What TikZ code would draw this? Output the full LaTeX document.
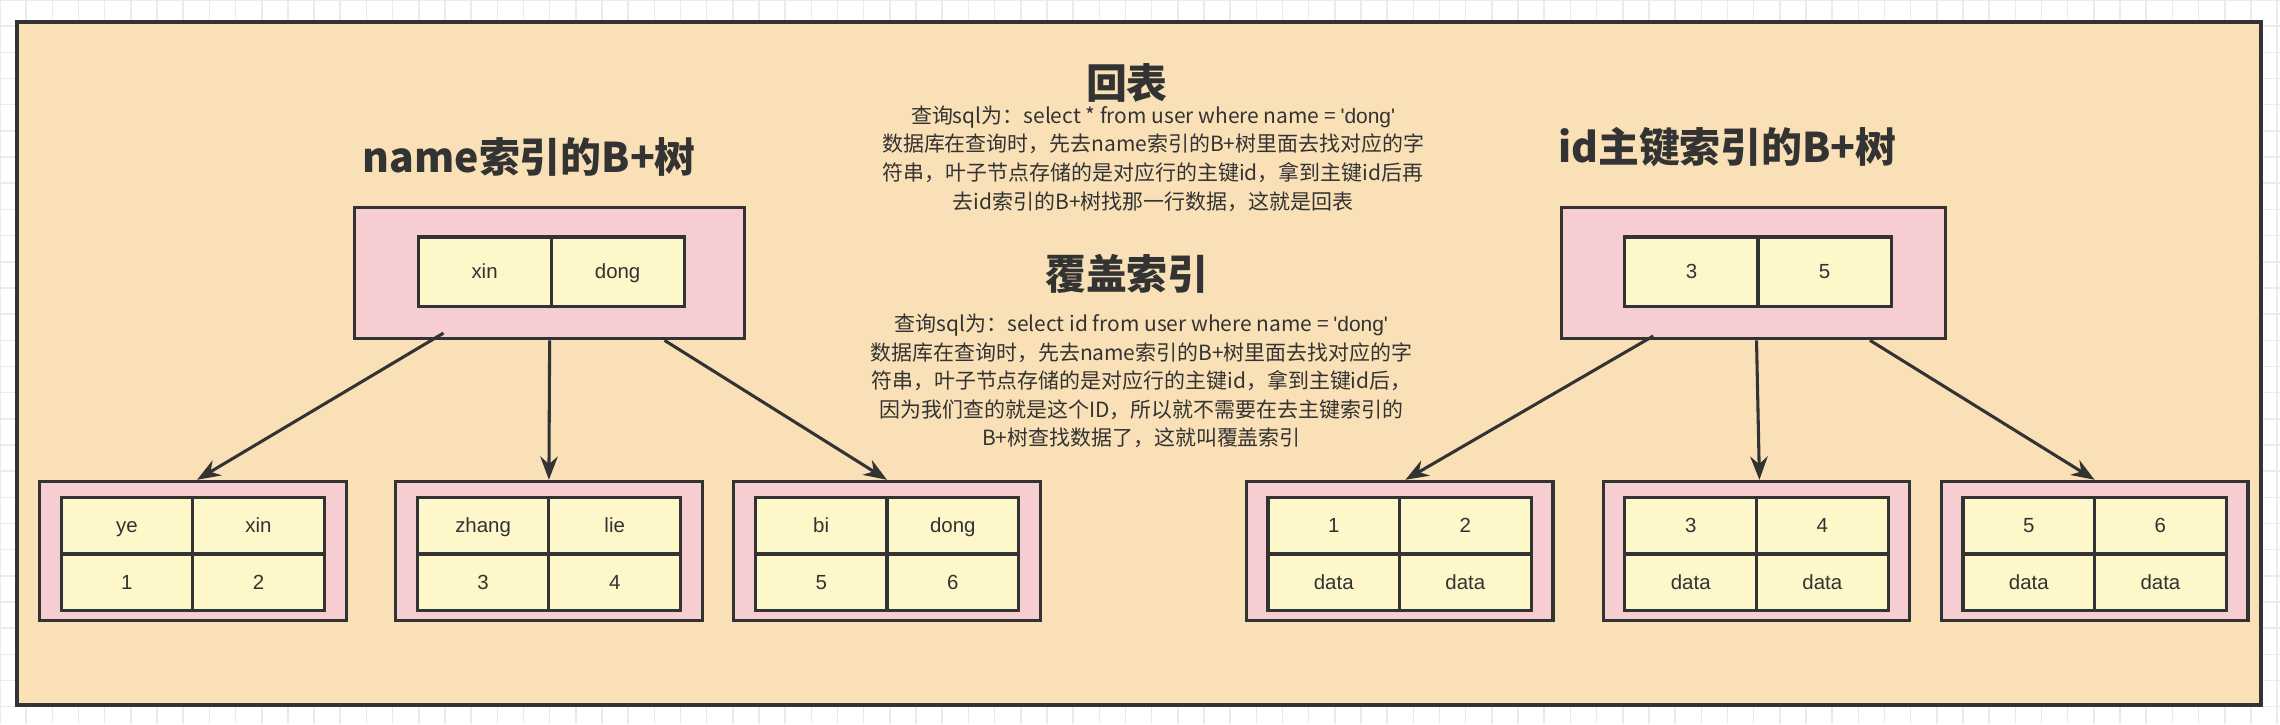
\documentclass[tikz,border=0pt]{standalone}
\usepackage{fontspec}
\setmainfont{Noto Sans CJK SC}
\newfontfamily\latinf{Liberation Sans}
\usetikzlibrary{arrows.meta}
\definecolor{bgc}{HTML}{F9E0B6}
\definecolor{pinkc}{HTML}{F6CDD0}
\definecolor{yelc}{HTML}{FDF7C9}
\definecolor{linec}{HTML}{333333}
\newcommand\qd{{\latinf 'dong'}}
\tikzset{
  pinkbox/.style={draw=linec,line width=0.6pt,fill=pinkc,inner sep=0,minimum width=#1},
  cell/.style={draw=linec,line width=0.6pt,fill=yelc,inner sep=0,minimum width=9.05mm,minimum height=3.9mm,font=\fontsize{4}{5}\latinf\selectfont,text=linec,text height=3.3pt,text depth=0.7pt},
  tcell/.style={cell,minimum width=9.15mm,minimum height=4.8mm},
  arr/.style={draw=linec,line width=0.6pt,-{Stealth[length=1.6mm,width=1.2mm]}},
  title/.style={font=\fontsize{8}{9}\selectfont\bfseries,text=linec},
  para/.style={font=\fontsize{4.1}{5.6}\selectfont,text=linec,align=center},
}
\newcommand\leafbox[6]{%
  \node[pinkbox=21.1mm,minimum height=9.6mm] (#1) at (#2,379) {};
  \node[cell] (#1a) at (#2-45.25,361.5) {#3};
  \node[cell] (#1b) at (#2+45.25,361.5) {#4};
  \node[cell] (#1c) at (#2-45.25,400.5) {#5};
  \node[cell] (#1d) at (#2+45.25,400.5) {#6};
}
\begin{document}
\begin{tikzpicture}[x=0.1mm,y=-0.1mm]
\useasboundingbox (0,0) rectangle (1568,498);
\fill[white] (0,0) rectangle (1568,498);
\foreach \i in {0,18,...,1568} \draw[black!8,line width=0.3pt] (\i,0) -- (\i,498);
\foreach \j in {0,18,...,498} \draw[black!8,line width=0.3pt] (0,\j) -- (1568,\j);
\draw[linec,line width=0.8pt,fill=bgc] (12,15) rectangle (1555,485);
% titles
\node[title] (t1) at (364,108) {name索引的B+树};
\node[title] (t2) at (1188,101) {id主键索引的B+树};
\node[title] (t3) at (775,57) {回表};
\node[title] (t4) at (775,188) {覆盖索引};
\node[para] (p1) at (793,109) {查询sql为：select * from user where name = \qd\\数据库在查询时，先去name索引的B+树里面去找对应的字\\符串，叶子节点存储的是对应行的主键id，拿到主键id后再\\去id索引的B+树找那一行数据，这就是回表};
\node[para] (p2) at (785,262) {查询sql为：select id from user where name = \qd\\数据库在查询时，先去name索引的B+树里面去找对应的字\\符串，叶子节点存储的是对应行的主键id，拿到主键id后，\\因为我们查的就是这个ID，所以就不需要在去主键索引的\\B+树查找数据了，这就叫覆盖索引};
% left tree
\node[pinkbox=26.8mm,minimum height=9mm] (L) at (378,188) {};
\node[tcell] (La) at (333.25,187) {xin};
\node[tcell] (Lb) at (424.75,187) {dong};
\leafbox{la}{132.5}{ye}{xin}{1}{2}
\leafbox{lb}{377.5}{zhang}{lie}{3}{4}
\leafbox{lc}{610}{bi}{dong}{5}{6}
\draw[arr] ([xshift=-7.3mm,yshift=0.5mm]L.south) -- ([xshift=0.3mm]la.north);
\draw[arr] (L.south) -- (lb.north);
\draw[arr] ([xshift=7.9mm]L.south) -- (lc.north);
% right tree
\node[pinkbox=26.4mm,minimum height=9mm] (R) at (1206,188) {};
\node[tcell] (Ra) at (1163.25,187) {3};
\node[tcell] (Rb) at (1254.75,187) {5};
\leafbox{ra}{962.5}{1}{2}{data}{data}
\leafbox{rb}{1208}{3}{4}{data}{data}
\leafbox{rc}{1440.5}{5}{6}{data}{data}
\draw[arr] ([xshift=-6.9mm,yshift=0.3mm]R.south) -- ([xshift=0.4mm]ra.north);
\draw[arr] ([xshift=0.2mm]R.south) -- ([xshift=0.2mm]rb.north);
\draw[arr] ([xshift=8mm]R.south) -- (rc.north);
\end{tikzpicture}
\end{document}
